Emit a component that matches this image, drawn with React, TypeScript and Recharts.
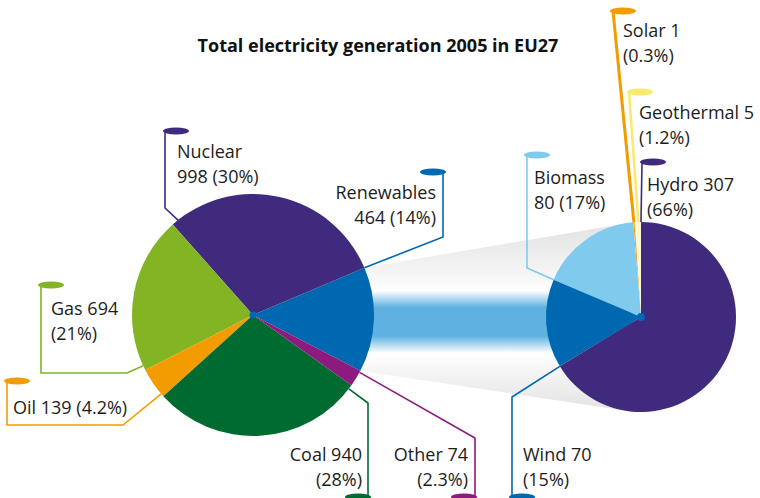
import React from 'react';
import { PieChart, Pie, Cell, Customized } from 'recharts';

// left pie: total generation by source (TWh)
const mainNames = ['Renewables', 'Nuclear', 'Gas', 'Oil', 'Coal', 'Other'];
const mainValues = [464, 998, 694, 139, 940, 74];
const mainShares = ['14%', '30%', '21%', '4.2%', '28%', '2.3%'];

// right pie: breakdown of renewables
const renewNames = ['Geothermal', 'Solar', 'Biomass', 'Wind', 'Hydro'];
const renewValues = [5, 1, 80, 70, 307];
const renewShares = ['1.2%', '0.3%', '17%', '15%', '66%'];

const title = 'Total electricity generation 2005 in EU27';

const colors: Record<string, string> = {
  Renewables: '#0068b1',
  Nuclear: '#3f2a7d',
  Gas: '#82b423',
  Oil: '#f39c00',
  Coal: '#006b31',
  Other: '#8d1a7f',
  Geothermal: '#fff6d6',
  Solar: '#f39c00',
  Biomass: '#80cbed',
  Wind: '#0068b1',
  Hydro: '#3f2a7d',
};

const FONT = '"Open Sans", sans-serif';
const LEFT = { cx: 253, cy: 315, r: 121 };
const RIGHT = { cx: 641, cy: 317, r: 95 };

type Layout = {
  t: number;
  path: number[][];
  cap: number[];
  tx: number;
  ty: number;
  anchor: 'start' | 'end';
  mode: 'name' | 'nameValue' | 'single';
  lw?: number;
  line?: string;
};

// leader line routes and text spots for each slice label
const layouts: Record<string, Layout> = {
  Nuclear: { t: 0.97, path: [[165, 208], [165, 131]], cap: [176, 131], tx: 177, ty: 158, anchor: 'start', mode: 'name' },
  Renewables: { t: 1, path: [[443, 237], [443, 172]], cap: [433, 172], tx: 436, ty: 199, anchor: 'end', mode: 'name' },
  Gas: { t: 0.97, path: [[127, 373], [41, 373], [41, 285]], cap: [51, 285], tx: 51, ty: 315, anchor: 'start', mode: 'nameValue' },
  Oil: { t: 0.9, path: [[123, 425], [7, 425], [7, 381]], cap: [17, 381], tx: 13, ty: 414, anchor: 'start', mode: 'single' },
  Coal: { t: 0.98, path: [[368, 403], [368, 498]], cap: [358, 497], tx: 362, ty: 461, anchor: 'end', mode: 'nameValue' },
  Other: { t: 0.9, path: [[475, 438], [475, 498]], cap: [464, 497], tx: 468, ty: 461, anchor: 'end', mode: 'nameValue' },
  Wind: { t: 1, path: [[512, 397], [512, 498]], cap: [522, 497], tx: 523, ty: 461, anchor: 'start', mode: 'nameValue' },
  Biomass: { t: 1, path: [[527, 268], [527, 155]], cap: [537, 155], tx: 534, ty: 184, anchor: 'start', mode: 'name' },
  Geothermal: { t: 0.4, path: [[629, 92]], cap: [640, 92], tx: 639, ty: 119, anchor: 'start', mode: 'nameValue', lw: 2.5, line: '#f8eb6c' },
  Solar: { t: 0.5, path: [[613, 11]], cap: [623, 11], tx: 623, ty: 37, anchor: 'start', mode: 'nameValue', lw: 3 },
  Hydro: { t: 1, path: [[642, 162]], cap: [653, 162], tx: 647, ty: 191, anchor: 'start', mode: 'nameValue' },
};

const RAD = Math.PI / 180;
const polar = (cx: number, cy: number, r: number, a: number) => [cx + r * Math.cos(-a * RAD), cy + r * Math.sin(-a * RAD)];

const makeLabel = (shares: string[], dotR: number) => (props: any) => {
  const { cx, cy, outerRadius, startAngle, endAngle, name, value, index } = props;
  const L = layouts[name];
  if (!L) return null;
  const a = startAngle + L.t * (endAngle - startAngle);
  const start = polar(cx, cy, outerRadius, a);
  const pts = [start, ...L.path].map((p) => p.join(',')).join(' ');
  const col = L.line || colors[name];
  const share = shares[index];
  let lines: string[];
  if (L.mode === 'name') lines = [name, `${value} (${share})`];
  else if (L.mode === 'nameValue') lines = [`${name} ${value}`, `(${share})`];
  else lines = [`${name} ${value} (${share})`];
  return (
    <g key={`lbl-${name}`}>
      {index === 0 && <circle cx={cx} cy={cy} r={dotR} fill="#0068b1" />}
      <polyline points={pts} fill="none" stroke={col} strokeWidth={L.lw || 1.6} />
      <ellipse cx={L.cap[0]} cy={L.cap[1]} rx={13} ry={3.5} fill={col} />
      <text x={L.tx} y={L.ty} textAnchor={L.anchor} fontFamily={FONT} fontSize={18} fill="#1d1d1b">
        {lines.map((s, i) => (
          <tspan key={i} x={L.tx} dy={i === 0 ? 0 : 25}>{s}</tspan>
        ))}
      </text>
    </g>
  );
};

// grey/blue band linking the renewables slice to the breakdown pie
const Band = () => {
  const p1 = polar(LEFT.cx, LEFT.cy, LEFT.r, 23);
  const p2 = polar(LEFT.cx, LEFT.cy, LEFT.r, -27.5);
  const q1 = polar(RIGHT.cx, RIGHT.cy, RIGHT.r, 95);
  const q2 = polar(RIGHT.cx, RIGHT.cy, RIGHT.r, 265);
  const pts = [p1, q1, q2, p2].map((p) => p.join(',')).join(' ');
  return (
    <g>
      <defs>
        <linearGradient id="band" gradientUnits="userSpaceOnUse" x1="0" y1={q1[1]} x2="0" y2={q2[1]}>
          <stop offset="0" stopColor="#e2e2e2" />
          <stop offset="0.28" stopColor="#f6f6f6" />
          <stop offset="0.36" stopColor="#ffffff" />
          <stop offset="0.45" stopColor="#5eb1e1" />
          <stop offset="0.6" stopColor="#5eb1e1" />
          <stop offset="0.69" stopColor="#ffffff" />
          <stop offset="0.78" stopColor="#f6f6f6" />
          <stop offset="1" stopColor="#e2e2e2" />
        </linearGradient>
      </defs>
      <polygon points={pts} fill="url(#band)" />
    </g>
  );
};

const mainData = mainNames.map((name, i) => ({ name, value: mainValues[i] }));
const renewData = renewNames.map((name, i) => ({ name, value: renewValues[i] }));

export default function App() {
  return (
    <div style={{ position: 'absolute', left: 0, top: 0, width: 760, height: 498, background: '#fff' }}>
      <PieChart width={760} height={498} margin={{ top: 0, right: 0, bottom: 0, left: 0 }}>
        <Customized component={Band} />
        <Pie
          data={mainData}
          dataKey="value"
          nameKey="name"
          cx={LEFT.cx}
          cy={LEFT.cy}
          outerRadius={LEFT.r}
          startAngle={-27.5}
          endAngle={332.5}
          stroke="none"
          label={makeLabel(mainShares, 3.5)}
          labelLine={false}
          isAnimationActive={false}
        >
          {mainData.map((d) => (
            <Cell key={d.name} fill={colors[d.name]} />
          ))}
        </Pie>
        <Pie
          data={renewData}
          dataKey="value"
          nameKey="name"
          cx={RIGHT.cx}
          cy={RIGHT.cy}
          outerRadius={RIGHT.r}
          startAngle={90}
          endAngle={450}
          stroke="none"
          label={makeLabel(renewShares, 4)}
          labelLine={false}
          isAnimationActive={false}
        >
          {renewData.map((d) => (
            <Cell key={d.name} fill={colors[d.name]} />
          ))}
        </Pie>
        <text x={378} y={52} textAnchor="middle" fontFamily={FONT} fontWeight={700} fontSize={18} fill="#111">
          {title}
        </text>
      </PieChart>
    </div>
  );
}
